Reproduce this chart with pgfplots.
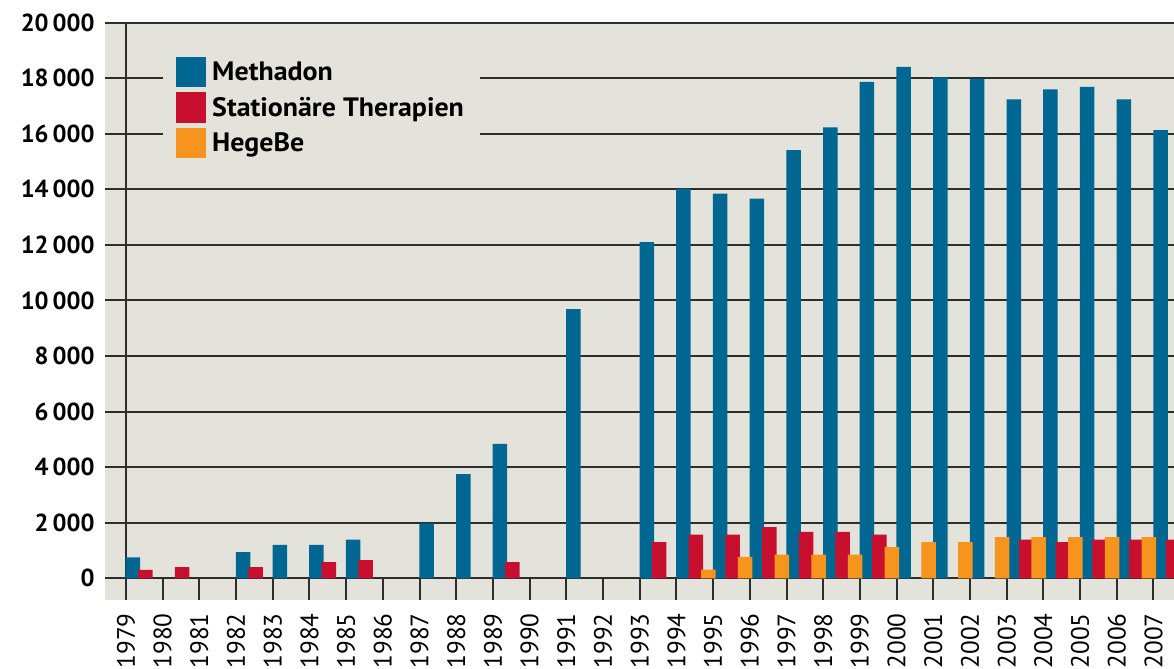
\documentclass[border=0pt]{standalone}
\usepackage{pgfplots}
\pgfplotsset{compat=1.18}
\usepackage{fontspec}
\setmainfont{PT Sans}
\newfontfamily\legfont{PT Sans}[FakeStretch=1.05]
\usetikzlibrary{calc}
\definecolor{mblue}{RGB}{0,102,146}
\definecolor{mred}{RGB}{200,16,46}
\definecolor{morange}{RGB}{247,148,30}
\definecolor{bgcol}{RGB}{228,227,219}
\definecolor{gridcol}{RGB}{45,45,45}

\begin{document}
\begin{tikzpicture}
\begin{axis}[
  name=ax,
  scale only axis,
  width=534.5pt, height=288.65pt,
  xmin=1978.428, xmax=2007.556,
  ymin=-781, ymax=20000,
  axis background/.style={fill=bgcol},
  axis line style={draw=none},
  ytick={0,2000,...,20000},
  scaled y ticks=false,
  ymajorgrids,
  major grid style={line width=1pt, color=gridcol},
  xtick={1979,...,2007},
  xtick pos=bottom,
  xtick align=inside,
  major tick length=10.85pt,
  ytick style={draw=none},
  xtick style={line width=1pt, color=gridcol},
  /pgf/number format/assume math mode=true,
  yticklabel style={font=\bfseries\fontsize{12.3}{14}\selectfont, /pgf/number format/1000 sep={\,}, inner sep=0pt, anchor=east},
  yticklabel shift=5pt,
  xticklabel style={font=\fontsize{12.6}{14}\selectfont, rotate=90, anchor=east, inner sep=0pt, /pgf/number format/1000 sep={}},
  xticklabel shift=6.5pt,
  extra x ticks={1979},
  extra x tick labels={},
  extra x tick style={xmajorgrids=true},
  legend cell align=left,
  legend style={at={(0.0543,0.9585)}, anchor=north west, draw=none, fill=bgcol,
    inner xsep=6.5pt, inner ysep=5pt, row sep=-0.5pt, column sep=1.5pt,
    font=\legfont\bfseries\fontsize{13.3}{15}\selectfont,
    nodes={inner sep=1.5pt, text height=10pt, text depth=4.75pt}},
]
\addplot[ybar, bar width=0.395, bar shift=0.19, fill=mblue, draw=none, forget plot] coordinates {
(1979,750) (1982,940) (1983,1200) (1984,1200) (1985,1390) (1987,1980) (1988,3750) (1989,4840)
(1991,9690) (1993,12100) (1994,14030) (1995,13850) (1996,13670) (1997,15410) (1998,16230)
(1999,17870) (2000,18410) (2001,18030) (2002,17990) (2003,17240) (2004,17600) (2005,17690)
(2006,17240) (2007,16130)};
\addplot[ybar, bar width=0.395, bar shift=0.53, fill=mred, draw=none, forget plot] coordinates {
(1979,300) (1980,400) (1982,400) (1984,580) (1985,650) (1989,580) (1993,1300) (1994,1570)
(1995,1570) (1996,1840) (1997,1670) (1998,1670) (1999,1570) (2003,1390) (2004,1300)
(2005,1390) (2006,1390) (2007,1390)};
\addplot[ybar, bar width=0.395, bar shift=0.87, fill=morange, draw=none, forget plot] coordinates {
(1994,310) (1995,770) (1996,850) (1997,850) (1998,850) (1999,1120) (2000,1300) (2001,1300)
(2002,1480) (2003,1480) (2004,1480) (2005,1480) (2006,1480)};
\addlegendimage{legend image code/.code={\fill[mblue] (0pt,-5.55pt) rectangle (14.5pt,9.1pt);}}
\addlegendentry{Methadon}
\addlegendimage{legend image code/.code={\fill[mred] (0pt,-5.55pt) rectangle (14.5pt,9.1pt);}}
\addlegendentry{Stationäre Therapien}
\addlegendimage{legend image code/.code={\fill[morange] (0pt,-5.55pt) rectangle (14.5pt,9.1pt);}}
\addlegendentry{HegeBe}
\end{axis}
\pgfresetboundingbox
\path ($(ax.south west)+(-52.5pt,-34.5pt)$) rectangle ($(ax.north east)+(0pt,11.35pt)$);
\end{tikzpicture}
\end{document}
